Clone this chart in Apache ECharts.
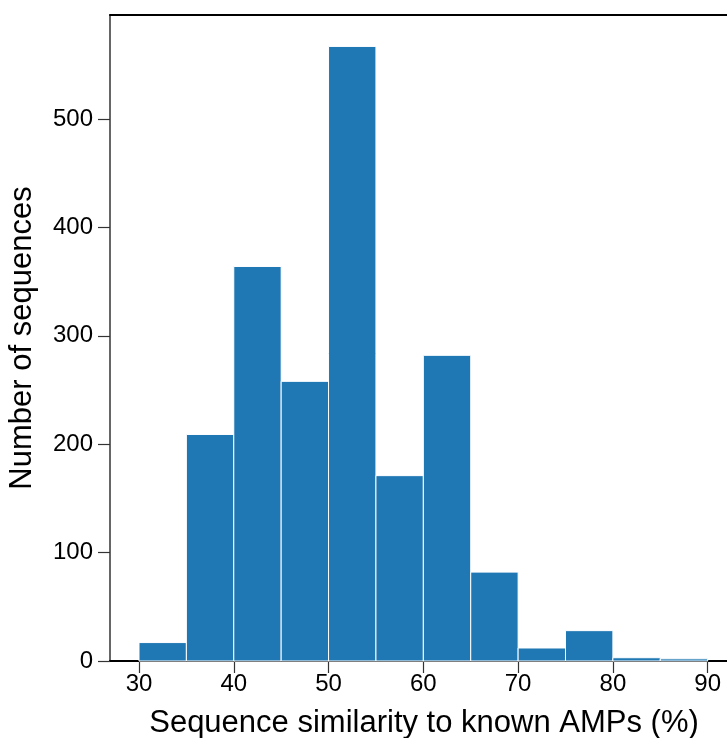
<!DOCTYPE html>
<html lang="en">
<head>
<meta charset="UTF-8">
<title>Sequence similarity histogram</title>
<script src="https://cdn.jsdelivr.net/npm/echarts@6/dist/echarts.min.js"></script>
<style>
  html, body { margin: 0; padding: 0; background: #fff; }
  #chart { width: 727px; height: 738px; }
</style>
</head>
<body>
<div id="chart"></div>
<script>
// histogram bins (% similarity) and counts
const binStart = [30, 35, 40, 45, 50, 55, 60, 65, 70, 75, 80, 85]
const binEnd = [35, 40, 45, 50, 55, 60, 65, 70, 75, 80, 85, 90]
const counts = [17, 209, 364, 258, 567, 171, 282, 82, 12, 28, 3, 2]
const xTicks = [30, 40, 50, 60, 70, 80, 90]
const yTicks = [0, 100, 200, 300, 400, 500]

const fontFamily = 'Liberation Sans, Arial, sans-serif'
const data = binStart.map((s, i) => [s, binEnd[i], counts[i]])

const chart = echarts.init(document.getElementById('chart'), null, { renderer: 'canvas' })

chart.setOption({
  animation: false,
  backgroundColor: '#fff',
  grid: { left: 110, right: 0, top: 15, bottom: 77, outerBoundsMode: 'none' },
  xAxis: [{
    type: 'value',
    min: 26.94,
    max: 92.04,
    axisLine: { show: true, onZero: false, lineStyle: { color: '#000', width: 2 } },
    axisTick: { show: true, customValues: xTicks, length: 12, lineStyle: { color: '#333', width: 1.2 } },
    axisLabel: { customValues: xTicks, color: '#000', fontSize: 24, fontFamily, margin: 11 },
    splitLine: { show: false },
    name: 'Sequence similarity to known AMPs (%)',
    nameLocation: 'middle',
    nameGap: 47,
    nameTextStyle: { color: '#000', fontSize: 31, fontFamily, padding: [0, 0, 0, 11] }
  }, {
    // top spine
    type: 'value',
    position: 'top',
    min: 26.94,
    max: 92.04,
    axisLine: { show: true, onZero: false, lineStyle: { color: '#000', width: 2 } },
    axisTick: { show: false },
    axisLabel: { show: false },
    splitLine: { show: false }
  }],
  yAxis: {
    type: 'value',
    min: 0,
    max: 596,
    interval: 100,
    axisLine: { show: true, lineStyle: { color: '#333', width: 1.5 } },
    axisTick: { show: true, customValues: yTicks, length: 12, lineStyle: { color: '#333', width: 1.2 } },
    axisLabel: { customValues: yTicks, color: '#000', fontSize: 24, fontFamily, margin: 17 },
    splitLine: { show: false },
    name: 'Number of sequences',
    nameLocation: 'middle',
    nameGap: 72,
    nameTextStyle: { color: '#000', fontSize: 31, fontFamily }
  },
  series: [{
    type: 'custom',
    data: data,
    encode: { x: [0, 1], y: 2 },
    renderItem: function (params, api) {
      const p0 = api.coord([api.value(0), 0])
      const p1 = api.coord([api.value(1), api.value(2)])
      return {
        type: 'rect',
        shape: { x: p0[0], y: p1[1], width: p1[0] - p0[0], height: p0[1] - p1[1] },
        style: { fill: '#1f77b4', stroke: '#ffffff', lineWidth: 1 }
      }
    }
  }]
})
</script>
</body>
</html>
